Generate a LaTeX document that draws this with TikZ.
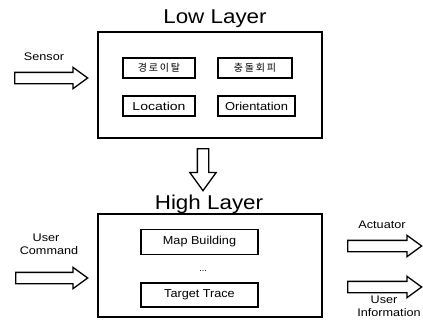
\documentclass[tikz,border=0pt]{standalone}
\usepackage{fontspec}
\setmainfont{Liberation Sans}
\newfontfamily\krfont[LetterSpace=18]{Noto Sans CJK KR}
\usetikzlibrary{shapes.arrows}
\begin{document}
\begin{tikzpicture}[x=1pt,y=-1pt,
  layerbox/.style={draw, line width=1.6pt, inner sep=0pt},
  itembox/.style={draw, line width=1.3pt, inner sep=0pt, minimum height=20pt, font=\fontsize{11.5}{13}\selectfont},
  titletext/.style={font=\fontsize{20}{24}\selectfont, xscale=1.12, inner sep=0pt, anchor=base},
  smalltext/.style={font=\fontsize{11}{13}\selectfont, xscale=1.15, inner sep=0pt},
  blockarrow/.style={single arrow, draw, fill=white, line width=1.3pt, inner xsep=0pt, inner ysep=5pt,
    text height=0pt, text depth=0pt, single arrow head extend=5pt, single arrow tip angle=72, anchor=west}
]
\useasboundingbox (0,0) rectangle (423,322);
% titles
\node[titletext] (lowtitle) at (215,23) {Low Layer};
\node[titletext] (hightitle) at (209,209) {High Layer};
% layer boxes
\node[layerbox, minimum width=224pt, minimum height=106pt] (low) at (210,85) {};
\node[layerbox, minimum width=224pt, minimum height=103pt] (high) at (210,265.5) {};
% low items
\node[itembox, minimum width=72pt] (k1) at (159,68) {\krfont\fontsize{10}{12}\selectfont 경로이탈};
\node[itembox, minimum width=74pt] (k2) at (255,68) {\krfont\fontsize{10}{12}\selectfont 충돌회피};
\node[itembox, minimum width=72pt] (loc) at (159,106) {\scalebox{1.22}[1]{Location}};
\node[itembox, minimum width=77pt] (ori) at (256.5,106) {\scalebox{1.12}[1]{Orientation}};
% high items
\node[itembox, minimum width=117pt, minimum height=25pt] (map) at (199.5,242) {\scalebox{1.1}[1]{Map Building}};
\node[font=\fontsize{9}{10}\selectfont, inner sep=0pt] (dots) at (203,271) {...};
\node[itembox, minimum width=117pt, minimum height=24pt] (trace) at (199.5,295) {\scalebox{1.1}[1]{Target Trace}};
% block arrows
\node[blockarrow, minimum height=73pt] (sensorarrow) at (14,78) {};
\node[blockarrow, minimum height=72pt] (cmdarrow) at (15,278) {};
\node[blockarrow, minimum height=74pt] (actarrow) at (347,246) {};
\node[blockarrow, minimum height=74pt] (infoarrow) at (347,287) {};
\node[blockarrow, minimum height=42pt, single arrow head extend=7.5pt, rotate=-90] (downarrow) at (203,148) {};
% labels
\node[smalltext] (sensor) at (44,57) {Sensor};
\node[smalltext] (user1) at (46,238) {User};
\node[smalltext] (command) at (49,251) {Command};
\node[smalltext] (actuator) at (382,225) {Actuator};
\node[smalltext] (user2) at (384,300) {User};
\node[smalltext] (information) at (389,313) {Information};
\end{tikzpicture}
\end{document}
